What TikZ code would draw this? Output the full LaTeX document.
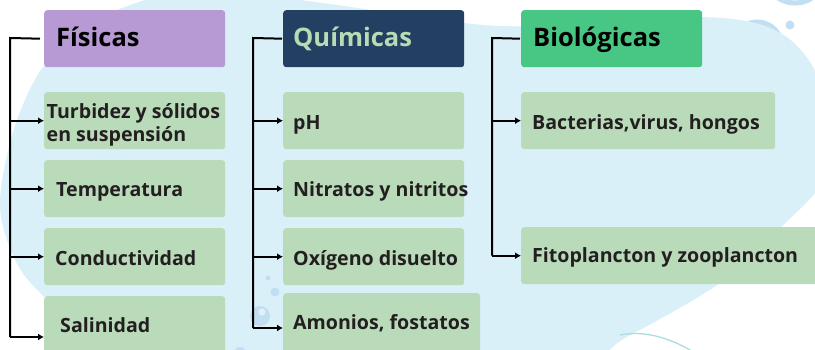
\documentclass[tikz,border=0pt]{standalone}
\usepackage{fontspec}
\setmainfont{Open Sans}
\usetikzlibrary{arrows.meta}
\definecolor{blob}{HTML}{DAF0F8}
\definecolor{bubble}{HTML}{C2DEF3}
\definecolor{itemfill}{HTML}{B9DBBA}
\definecolor{fisfill}{HTML}{B79AD3}
\definecolor{quifill}{HTML}{233F62}
\definecolor{quitext}{HTML}{B7DBB5}
\definecolor{biofill}{HTML}{48C784}
\definecolor{txt}{HTML}{231F20}
\definecolor{teal}{HTML}{A9DDE2}
\begin{document}
\begin{tikzpicture}[x=1pt,y=-1pt,
  boxnode/.style={rounded corners=3pt, anchor=north west, inner sep=0pt, minimum height=57pt, fill=itemfill},
  headtext/.style={anchor=west, inner sep=0pt, font=\fontsize{25.5}{30}\selectfont\bfseries, text height=18.4pt, text depth=0pt},
  itemtext/.style={anchor=west, inner sep=0pt, font=\fontsize{19.6}{23}\selectfont\bfseries, text=txt, text height=14.1pt, text depth=0pt},
  conn/.style={line width=2pt, black},
  arr/.style={conn, -{Latex[length=6pt,width=7pt]}}
]
\useasboundingbox (0,0) rectangle (815,350);
\clip (0,0) rectangle (815,350);
% background bubbles behind the blob
\draw[bubble, line width=4pt] (697,32) circle (14);
\draw[bubble, line width=5pt] (757,47) circle (25);
\draw[bubble, line width=5pt] (795,-28) circle (31);
\fill[bubble] (790,25) circle (4.5);
% blob
\fill[blob] plot[smooth cycle, tension=0.6] coordinates {
  (200,-10) (300,0) (400,14) (500,26) (600,22) (700,17) (765,26) (805,55)
  (830,110) (826,165) (815,193) (770,237) (717,285) (627,337) (580,360)
  (400,385) (150,380) (90,345) (45,298) (22,272) (7,240) (0,205) (6,160)
  (20,112) (43,67) (80,30) (133,4)};
% bubbles on the blob
\fill[bubble] (268,278) circle (2.5);
\fill[bubble] (275,292) circle (4.5);
\fill[bubble] (260,316) circle (10);
\fill[white!55!bubble] (262,312) circle (3.5);
\fill[bubble] (240,353) circle (6);
\draw[teal, line width=1.3pt] (620,335) .. controls (645,330) and (672,338) .. (698,355);

% header boxes
\node[boxnode, fill=fisfill, minimum width=181pt] (fis) at (44,10) {};
\node[boxnode, fill=quifill, minimum width=181pt] (qui) at (283,10) {};
\node[boxnode, fill=biofill, minimum width=181pt] (bio) at (521,10) {};
\node[headtext, text=black] (fist) at (56,37.5) {Físicas};
\node[headtext, text=quitext] (quit) at (293,37.5) {Químicas};
\node[headtext, text=black] (biot) at (533,37.5) {Biológicas};

% physical items
\node[boxnode, minimum width=181pt] (turb) at (44,92) {};
\node[boxnode, minimum width=181pt] (temp) at (44,160) {};
\node[boxnode, minimum width=181pt] (cond) at (44,228) {};
\node[boxnode, minimum width=181pt, minimum height=62pt] (sal) at (44,296) {};
\node[anchor=west, inner sep=0pt, font=\fontsize{19.6}{22.5}\selectfont\bfseries, text=txt, align=left] (turbt) at (46.5,125) {Turbidez y sólidos\\en suspensión};
\node[itemtext] (tempt) at (56,189.5) {Temperatura};
\node[itemtext] (condt) at (55,258) {Conductividad};
\node[itemtext] (salt) at (60,325) {Salinidad};

% chemical items
\node[boxnode, minimum width=181pt] (ph) at (283,92) {};
\node[boxnode, minimum width=181pt] (nit) at (283,160) {};
\node[boxnode, minimum width=181pt] (oxi) at (283,228) {};
\node[boxnode, minimum width=197pt, minimum height=65pt] (amo) at (283,293) {};
\node[itemtext] (pht) at (293,122) {pH};
\node[itemtext] (nitt) at (293,189.5) {Nitratos y nitritos};
\node[itemtext] (oxit) at (293,258) {Oxígeno disuelto};
\node[itemtext] (amot) at (293,322.5) {Amonios, fostatos};

% biological items
\node[boxnode, minimum width=254pt] (bac) at (521,92) {};
\node[boxnode, minimum width=300pt] (fito) at (521,227) {};
\node[itemtext] (bact) at (532,122) {Bacterias,virus, hongos};
\node[itemtext] (fitot) at (532,255.5) {Fitoplancton y zooplancton};

% spines
\coordinate (fsp) at (10,38);
\coordinate (fend) at (10,337);
\coordinate (qsp) at (253,38);
\coordinate (qend) at (253,328);
\coordinate (bsp) at (492,38);

\draw[conn] ([xshift=-4pt]fis.west) -- (fsp) -- (fend);
\draw[arr] (turb.west -| fsp) -- (turb.west);
\draw[arr] (temp.west -| fsp) -- (temp.west);
\draw[arr] (cond.west -| fsp) -- (cond.west);
\draw[arr] (fend) -- (fend -| sal.west);

\draw[conn] ([xshift=-1pt]qui.west) -- (qsp) -- (qend);
\draw[arr] (ph.west -| qsp) -- (ph.west);
\draw[arr] (nit.west -| qsp) -- (nit.west);
\draw[arr] (oxi.west -| qsp) -- (oxi.west);
\draw[arr] (qend) -- (qend -| amo.west);

\draw[conn] ([xshift=-1pt]bio.west) -- (bsp) -- (bsp |- fito.west);
\draw[arr] (bac.west -| bsp) -- (bac.west);
\draw[arr] (fito.west -| bsp) -- (fito.west);
\end{tikzpicture}
\end{document}
